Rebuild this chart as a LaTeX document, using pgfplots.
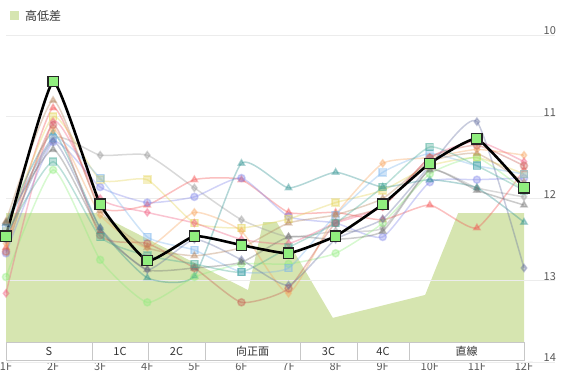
\documentclass[border=0pt]{standalone}
\usepackage{fontspec}
\setmainfont{Noto Sans CJK JP}
\usepackage{pgfplots}
\pgfplotsset{compat=1.18}
\definecolor{areaC}{RGB}{214,229,176}
\definecolor{gridC}{RGB}{236,236,236}
\definecolor{tickC}{RGB}{90,90,90}
\definecolor{mainG}{RGB}{144,238,126}
\definecolor{c1}{RGB}{150,150,150}
\definecolor{c2}{RGB}{244,80,80}
\definecolor{c3}{RGB}{128,133,233}
\definecolor{c4}{RGB}{228,211,84}
\definecolor{c5}{RGB}{43,144,143}
\definecolor{c6}{RGB}{247,163,92}
\definecolor{c7}{RGB}{144,237,125}
\definecolor{c8}{RGB}{241,92,128}
\definecolor{c9}{RGB}{124,181,236}
\definecolor{c10}{RGB}{200,90,80}
\definecolor{c11}{RGB}{100,110,160}
\definecolor{c12}{RGB}{110,110,110}
\definecolor{c13}{RGB}{180,130,90}
\definecolor{c14}{RGB}{70,170,150}
\pgfplotsset{faint/.style={smooth, tension=0.32, line width=1.5bp, opacity=0.36, mark size=3.6bp, mark options={draw=none}}}
\begin{document}
\begin{tikzpicture}
\path[use as bounding box] (-6bp,-21bp) rectangle (562bp,362bp);
\begin{axis}[
  at={(0,0)}, anchor=south west,
  scale only axis, width=518bp, height=327bp,
  xmin=1, xmax=12, ymin=10, ymax=14, y dir=reverse,
  clip=false,
  axis line style={draw=none},
  major tick length=0pt,
  xtick={1,...,12},
  xticklabels={1F,2F,3F,4F,5F,6F,7F,8F,9F,10F,11F,12F},
  xticklabel style={font=\fontsize{11bp}{13bp}\selectfont, text=tickC, yshift=3bp},
  ytick={10,11,12,13,14},
  yticklabel pos=right,
  yticklabel style={anchor=east, xshift=35.4bp, yshift=4bp, font=\fontsize{11bp}{13bp}\selectfont, text=tickC},
  /pgf/number format/assume math mode=true,
]
% elevation area
\addplot[fill=areaC, draw=none] coordinates {(1,12.18) (2.93,12.18) (6.14,13.12) (6.46,12.29) (6.75,12.29) (7.94,13.46) (9.90,13.18) (10.60,12.18) (12,12.18) (12,13.755) (1,13.755)} -- cycle;
% grid lines
\draw[gridC, line width=0.8bp] (axis cs:1,10) -- (axis cs:12.66,10);
\draw[gridC, line width=0.8bp] (axis cs:1,11) -- (axis cs:12.66,11);
\draw[gridC, line width=0.8bp] (axis cs:1,12) -- (axis cs:12.66,12);
\draw[gridC, line width=0.8bp] (axis cs:1,13) -- (axis cs:12.66,13);
\draw[gridC, line width=0.8bp] (axis cs:1,14) -- (axis cs:12.66,14);
% faint series
\addplot[faint, c1, mark=diamond*] coordinates {(1,12.30)(2,11.26)(3,11.47)(4,11.47)(5,11.87)(6,12.26)(7,12.47)(8,12.40)(9,12.36)(10,11.65)(11,11.87)(12,11.98)};
\addplot[faint, c2, mark=triangle*] coordinates {(1,12.60)(2,10.89)(3,12.10)(4,12.08)(5,11.77)(6,11.77)(7,12.17)(8,12.17)(9,12.26)(10,12.08)(11,12.36)(12,11.65)};
\addplot[faint, c3, mark=*] coordinates {(1,12.67)(2,11.31)(3,11.86)(4,12.05)(5,11.98)(6,11.75)(7,12.22)(8,12.30)(9,12.47)(10,11.80)(11,11.77)(12,11.75)};
\addplot[faint, c4, mark=square*] coordinates {(1,12.40)(2,11.00)(3,11.77)(4,11.77)(5,12.30)(6,12.36)(7,12.25)(8,12.05)(9,11.90)(10,11.60)(11,11.50)(12,11.70)};
\addplot[faint, c5, mark=triangle*] coordinates {(1,12.30)(2,11.20)(3,12.36)(4,12.97)(5,12.95)(6,11.57)(7,11.87)(8,11.68)(9,11.86)(10,11.77)(11,11.87)(12,12.29)};
\addplot[faint, c6, mark=diamond*] coordinates {(1,12.55)(2,11.16)(3,12.20)(4,12.60)(5,12.17)(6,12.40)(7,13.16)(8,12.20)(9,11.57)(10,11.50)(11,11.40)(12,11.47)};
\addplot[faint, c7, mark=*] coordinates {(1,12.96)(2,11.65)(3,12.75)(4,13.27)(5,12.96)(6,12.80)(7,12.80)(8,12.67)(9,12.30)(10,11.70)(11,11.50)(12,11.90)};
\addplot[faint, c8, mark=diamond*] coordinates {(1,13.16)(2,11.06)(3,12.00)(4,12.17)(5,12.30)(6,12.50)(7,12.55)(8,12.30)(9,12.10)(10,11.50)(11,11.30)(12,11.55)};
\addplot[faint, c9, mark=square*] coordinates {(1,12.35)(2,11.26)(3,11.75)(4,12.47)(5,12.63)(6,12.90)(7,12.85)(8,12.20)(9,11.68)(10,11.45)(11,11.60)(12,11.70)};
\addplot[faint, c10, mark=*] coordinates {(1,12.65)(2,11.10)(3,12.45)(4,12.55)(5,12.85)(6,13.27)(7,13.10)(8,12.30)(9,12.10)(10,11.50)(11,11.35)(12,11.60)};
\addplot[faint, c11, mark=diamond*] coordinates {(1,12.50)(2,11.30)(3,12.36)(4,12.87)(5,12.50)(6,12.75)(7,13.06)(8,12.50)(9,12.25)(10,11.60)(11,11.06)(12,12.85)};
\addplot[faint, c12, mark=triangle*] coordinates {(1,12.30)(2,11.40)(3,12.40)(4,12.87)(5,12.85)(6,12.78)(7,12.47)(8,12.50)(9,12.40)(10,11.65)(11,11.90)(12,12.08)};
\addplot[faint, c13, mark=triangle*] coordinates {(1,12.28)(2,10.80)(3,12.15)(4,12.60)(5,12.70)(6,12.60)(7,12.30)(8,12.20)(9,12.00)(10,11.55)(11,11.45)(12,11.80)};
\addplot[faint, c14, mark=square*] coordinates {(1,12.45)(2,11.55)(3,12.47)(4,12.70)(5,12.80)(6,12.90)(7,12.60)(8,12.30)(9,11.86)(10,11.37)(11,11.60)(12,11.90)};
% main series
\addplot[black, line width=2.6bp, smooth, tension=0.25, mark=square*, mark size=5.2bp, mark options={fill=mainG, draw=black!85, line width=1.3bp}] coordinates {(1,12.46)(2,10.57)(3,12.07)(4,12.76)(5,12.46)(6,12.57)(7,12.67)(8,12.46)(9,12.07)(10,11.57)(11,11.27)(12,11.87)};
\end{axis}
% section strip
\fill[white] (0,2bp) rectangle (518bp,20bp);
\draw[black!22, line width=0.9bp] (0,2bp) rectangle (518bp,20bp);
\foreach \xx in {86,142,199,294,351,403}{\draw[black!22, line width=0.9bp] (\xx bp,2bp) -- (\xx bp,20bp);}
\begin{scope}[every node/.style={font=\fontsize{11bp}{13bp}\selectfont, text=black!80}]
\node at (43bp,11bp) {S};
\node at (114bp,11bp) {1C};
\node at (170.5bp,11bp) {2C};
\node at (246.5bp,11bp) {向正面};
\node at (322.5bp,11bp) {3C};
\node at (377bp,11bp) {4C};
\node at (460.5bp,11bp) {直線};
\end{scope}
% legend
\fill[areaC] (4bp,342bp) rectangle (13bp,351bp);
\node[anchor=west, inner sep=0pt, font=\fontsize{12bp}{14bp}\selectfont, text=black!80] at (19bp,346bp) {高低差};
\end{tikzpicture}
\end{document}
